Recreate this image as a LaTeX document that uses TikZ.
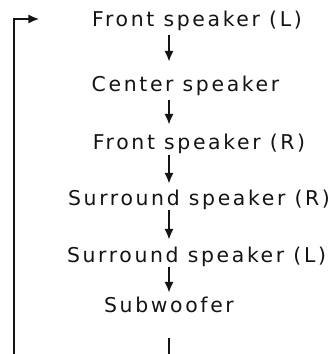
\documentclass[tikz,border=0pt]{standalone}
\usepackage{fontspec}
\usepackage{tikz}
\usetikzlibrary{arrows.meta,calc}
\newfontfamily\spkfont[LetterSpace=13]{DejaVu Sans}
\definecolor{InkD}{RGB}{20,20,20}

\begin{document}
\begin{tikzpicture}[x=0.025cm,y=-0.025cm,
    spk/.style={font=\spkfont\fontsize{14.5pt}{17pt}\selectfont,text=InkD,
                inner sep=0pt,text height=10.5pt,text depth=0pt,anchor=base},
    flow/.style={-{Latex[length=7.5pt,width=6.5pt]},InkD,line width=1pt}]
        \useasboundingbox (0,0) rectangle (333,354);
        \node[spk] (fl) at (197,27)  {Front speaker (L)};
        \node[spk] (cs) at (185.5,92) {Center speaker};
        \node[spk] (fr) at (199,150) {Front speaker (R)};
        \node[spk] (sr) at (199,205) {Surround speaker (R)};
        \node[spk] (sl) at (196.5,262) {Surround speaker (L)};
        \node[spk] (sw) at (169,312) {Subwoofer};
        \draw[flow,shorten <=5.7pt,shorten >=11pt]  (fl.south -| sw) -- (cs.north -| sw);
        \draw[flow,shorten <=5.7pt,shorten >=7.5pt] (cs.south -| sw) -- (fr.north -| sw);
        \draw[flow,shorten <=3.6pt,shorten >=4.6pt] (fr.south -| sw) -- (sr.north -| sw);
        \draw[flow,shorten <=3.6pt,shorten >=5.3pt] (sr.south -| sw) -- (sl.north -| sw);
        \draw[flow,shorten <=3.6pt,shorten >=3.2pt] (sl.south -| sw) -- (sw.north);
        % feedback loop
        \coordinate (loopbot) at (14,359);
        \coordinate (looptop) at (14,19);
        \coordinate (loopin)  at (39,19);
        \draw[flow,shorten <=18.5pt] (sw.south) |- (loopbot) -- (looptop) -- (loopin);
      \end{tikzpicture}
\end{document}
